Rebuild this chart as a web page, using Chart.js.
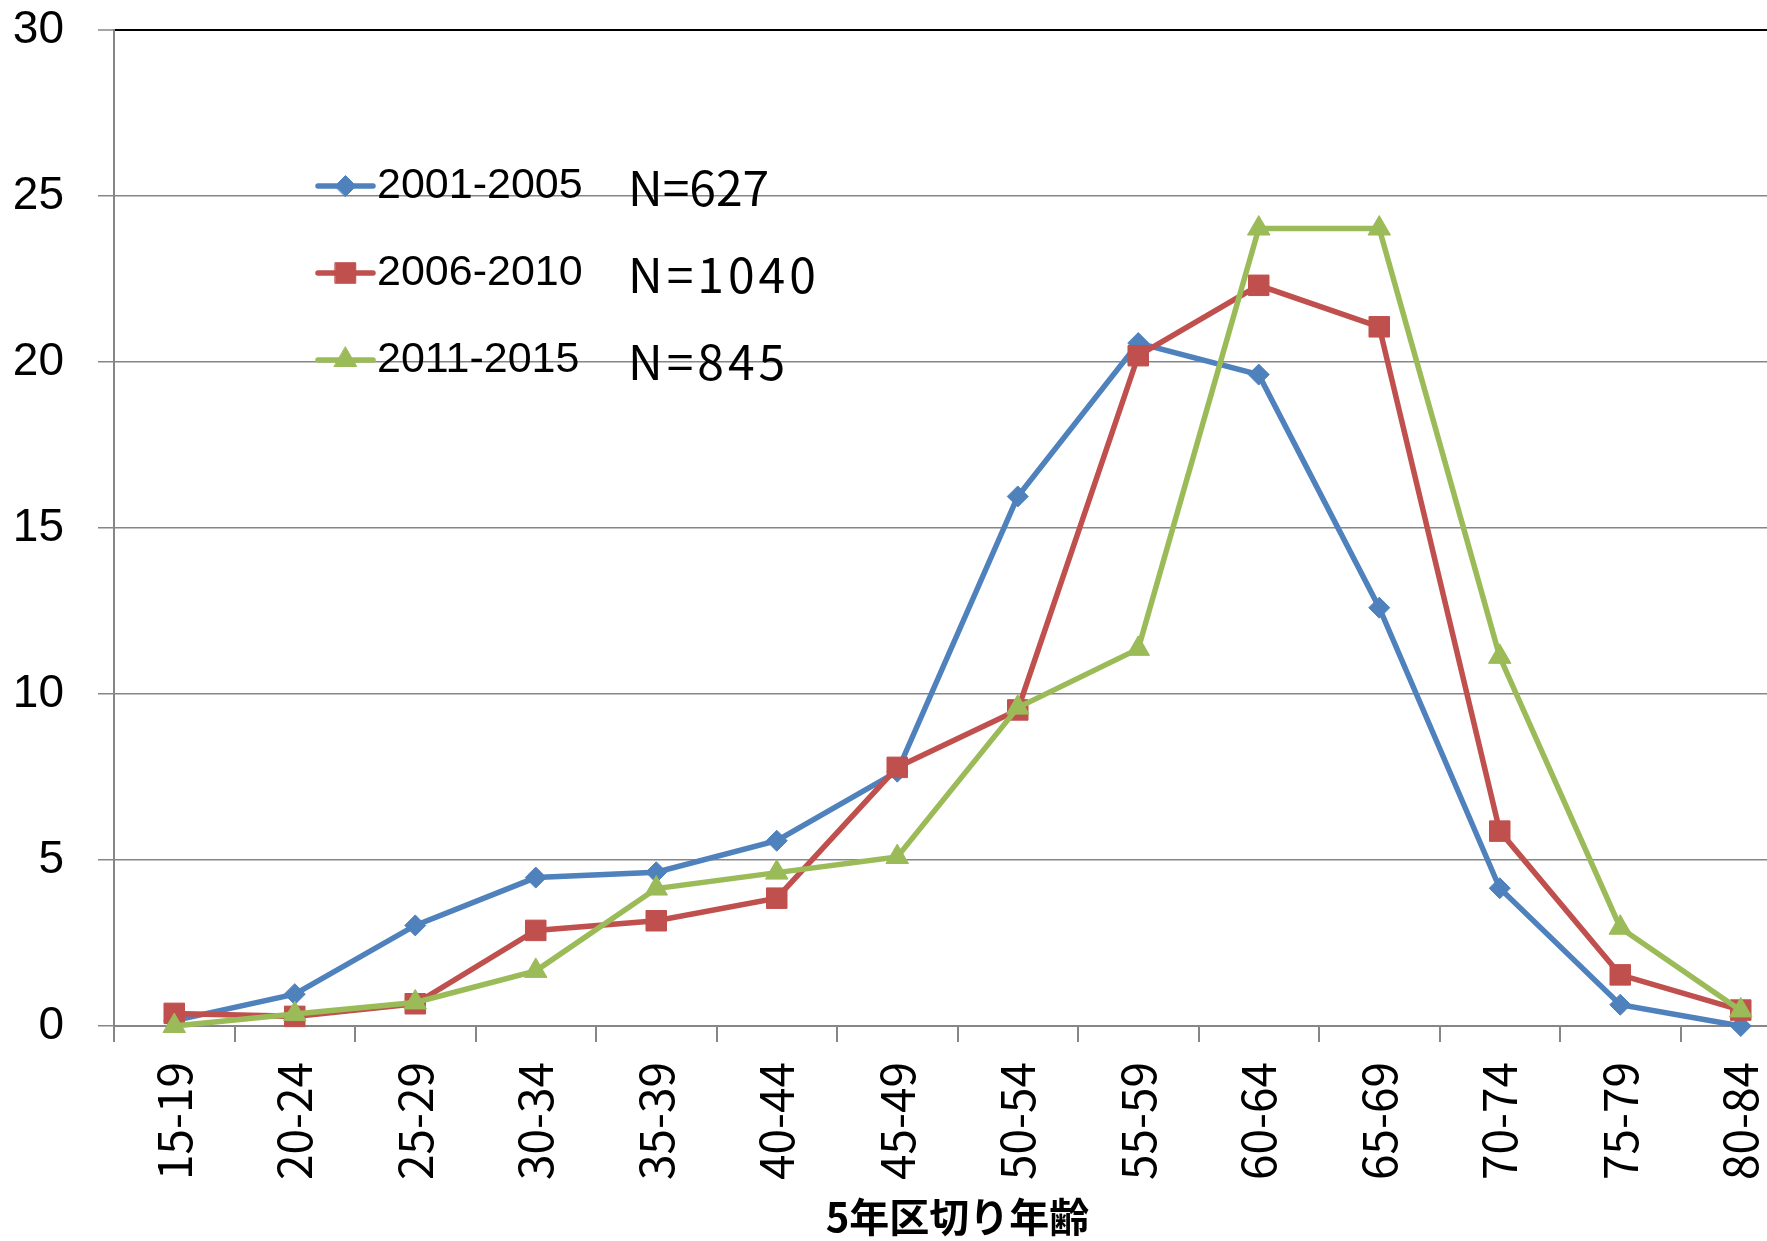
<!DOCTYPE html>
<html lang="ja">
<head>
<meta charset="utf-8">
<title>5年区切り年齢</title>
<script src="https://cdn.jsdelivr.net/npm/chart.js@4/dist/chart.umd.min.js"></script>
<style>
  html, body { margin: 0; padding: 0; background: #ffffff; overflow: hidden; }
  #wrap { width: 1767px; height: 1241px; overflow: hidden; position: relative; }
  canvas { display: block; }
</style>
</head>
<body>
<div id="wrap"><canvas id="chart" width="1820" height="1241"></canvas></div>
<script>
// Age bands (5-year groups)
const ageGroups = ['15-19', '20-24', '25-29', '30-34', '35-39', '40-44', '45-49',
                   '50-54', '55-59', '60-64', '65-69', '70-74', '75-79', '80-84'];

// Share of cases per age band (%)
const pct2001to2005 = [0.16, 0.96, 3.03, 4.47, 4.63, 5.58, 7.66, 15.95, 20.57, 19.62, 12.60, 4.15, 0.64, 0.00];
const pct2006to2010 = [0.38, 0.29, 0.67, 2.88, 3.17, 3.85, 7.79, 9.52, 20.19, 22.31, 21.06, 5.87, 1.54, 0.48];
const pct2011to2015 = [0.00, 0.36, 0.71, 1.66, 4.14, 4.62, 5.09, 9.59, 11.36, 24.02, 24.02, 11.12, 2.96, 0.47];

const periodNames = ['2001-2005', '2006-2010', '2011-2015'];
const sampleSizes = [627, 1040, 845];

// Value axis
const yMin = 0;
const yMax = 30;
const yStep = 5;

const axisTitle = '5年区切り年齢';

const GRID = '#868686';

function drawMarker(ctx, style, radius, x, y) {
  if (Chart.helpers && Chart.helpers.drawPoint) {
    Chart.helpers.drawPoint(ctx, { pointStyle: style, radius: radius, borderWidth: 1, rotation: 0 }, x, y);
    return;
  }
  ctx.beginPath();
  if (style === 'rectRot') {
    ctx.moveTo(x - radius, y); ctx.lineTo(x, y - radius);
    ctx.lineTo(x + radius, y); ctx.lineTo(x, y + radius);
  } else if (style === 'rect') {
    const s = Math.SQRT1_2 * radius;
    ctx.rect(x - s, y - s, 2 * s, 2 * s);
  } else {
    for (let k = 0; k < 3; k++) {
      const a = k * 2 * Math.PI / 3;
      const px = x + Math.sin(a) * radius, py = y - Math.cos(a) * radius;
      if (k === 0) ctx.moveTo(px, py); else ctx.lineTo(px, py);
    }
  }
  ctx.closePath();
  ctx.fill();
  ctx.stroke();
}

// Legend drawn inside the plot area, with the sample size next to each period
const insetLegend = {
  id: 'insetLegend',
  afterDatasetsDraw(chart) {
    const { ctx, chartArea } = chart;
    const rowOffsets = [156, 243, 330];
    const nSpacing = ['0px', '4px', '4px'];
    chart.data.datasets.forEach((ds, i) => {
      const y = chartArea.top + rowOffsets[i];
      const x0 = chartArea.left + 204;
      const x1 = chartArea.left + 259;
      ctx.save();
      ctx.strokeStyle = ds.borderColor;
      ctx.lineWidth = 5.5;
      ctx.lineCap = 'round';
      ctx.beginPath();
      ctx.moveTo(x0, y);
      ctx.lineTo(x1, y);
      ctx.stroke();
      ctx.fillStyle = ds.backgroundColor;
      ctx.strokeStyle = ds.borderColor;
      ctx.lineWidth = 1;
      drawMarker(ctx, ds.pointStyle, ds.pointRadius, (x0 + x1) / 2, y);

      ctx.fillStyle = '#000000';
      ctx.textAlign = 'left';
      ctx.textBaseline = 'middle';
      ctx.font = '43px "Liberation Sans", Arial, sans-serif';
      ctx.fillText(ds.label, chartArea.left + 263, y);

      ctx.font = '48px "Noto Sans CJK JP", "DejaVu Sans", sans-serif';
      if ('letterSpacing' in ctx) ctx.letterSpacing = nSpacing[i];
      ctx.fillText('N=' + sampleSizes[i], chartArea.left + 514, y + 2);
      ctx.restore();
    });
  }
};

const ctx = document.getElementById('chart').getContext('2d');

new Chart(ctx, {
  type: 'line',
  data: {
    labels: ageGroups,
    datasets: [
      {
        label: periodNames[0],
        data: pct2001to2005,
        borderColor: '#4F81BD',
        backgroundColor: '#4F81BD',
        borderWidth: 5.5,
        pointStyle: 'rectRot',
        pointRadius: 10.5,
        pointHoverRadius: 10.5,
        pointBorderWidth: 1,
        tension: 0,
        clip: false,
        order: 3
      },
      {
        label: periodNames[1],
        data: pct2006to2010,
        borderColor: '#C0504D',
        backgroundColor: '#C0504D',
        borderWidth: 5.5,
        pointStyle: 'rect',
        pointRadius: 14.5,
        pointHoverRadius: 14.5,
        pointBorderWidth: 1,
        tension: 0,
        clip: false,
        order: 2
      },
      {
        label: periodNames[2],
        data: pct2011to2015,
        borderColor: '#9BBB59',
        backgroundColor: '#9BBB59',
        borderWidth: 5.5,
        pointStyle: 'triangle',
        pointRadius: 13,
        pointHoverRadius: 13,
        pointBorderWidth: 1,
        tension: 0,
        clip: false,
        order: 1
      }
    ]
  },
  options: {
    responsive: false,
    animation: false,
    devicePixelRatio: 1,
    events: [],
    layout: { padding: { top: 30, right: 19, bottom: 0, left: 0 } },
    plugins: {
      legend: { display: false },
      tooltip: { enabled: false },
      title: { display: false }
    },
    scales: {
      x: {
        type: 'category',
        offset: true,
        afterFit(scale) {
          scale.height = 215;
          scale.paddingLeft = 0;
          scale.paddingRight = 0;
        },
        border: { display: true, color: GRID, width: 2 },
        grid: {
          offset: true,
          drawOnChartArea: false,
          drawTicks: true,
          tickLength: 16,
          color: GRID,
          tickColor: GRID,
          lineWidth: 2,
          tickWidth: 2
        },
        ticks: {
          autoSkip: false,
          minRotation: 90,
          maxRotation: 90,
          padding: 20,
          color: '#000000',
          font: { family: '"Noto Sans CJK JP", "DejaVu Sans", sans-serif', size: 46 }
        },
        title: {
          display: true,
          text: axisTitle,
          color: '#000000',
          padding: { top: 0, bottom: 0 },
          font: { family: '"Noto Sans CJK JP", sans-serif', size: 40, weight: 'bold', lineHeight: 1.2 }
        }
      },
      y: {
        min: yMin,
        max: yMax,
        afterFit(scale) {
          scale.width = 114;
          scale.paddingTop = 0;
          scale.paddingBottom = 0;
        },
        border: { display: true, color: GRID, width: 2 },
        grid: {
          drawTicks: true,
          tickLength: 16,
          color: (c) => (c.tick && c.tick.value === yMax ? '#000000' : GRID),
          lineWidth: (c) => (c.tick && c.tick.value === yMax ? 2 : 1.5),
          tickColor: GRID,
          tickWidth: 1.5
        },
        ticks: {
          stepSize: yStep,
          padding: 34,
          color: '#000000',
          font: { family: '"Liberation Sans", Arial, sans-serif', size: 46 }
        }
      }
    }
  },
  plugins: [insetLegend]
});
</script>
</body>
</html>
